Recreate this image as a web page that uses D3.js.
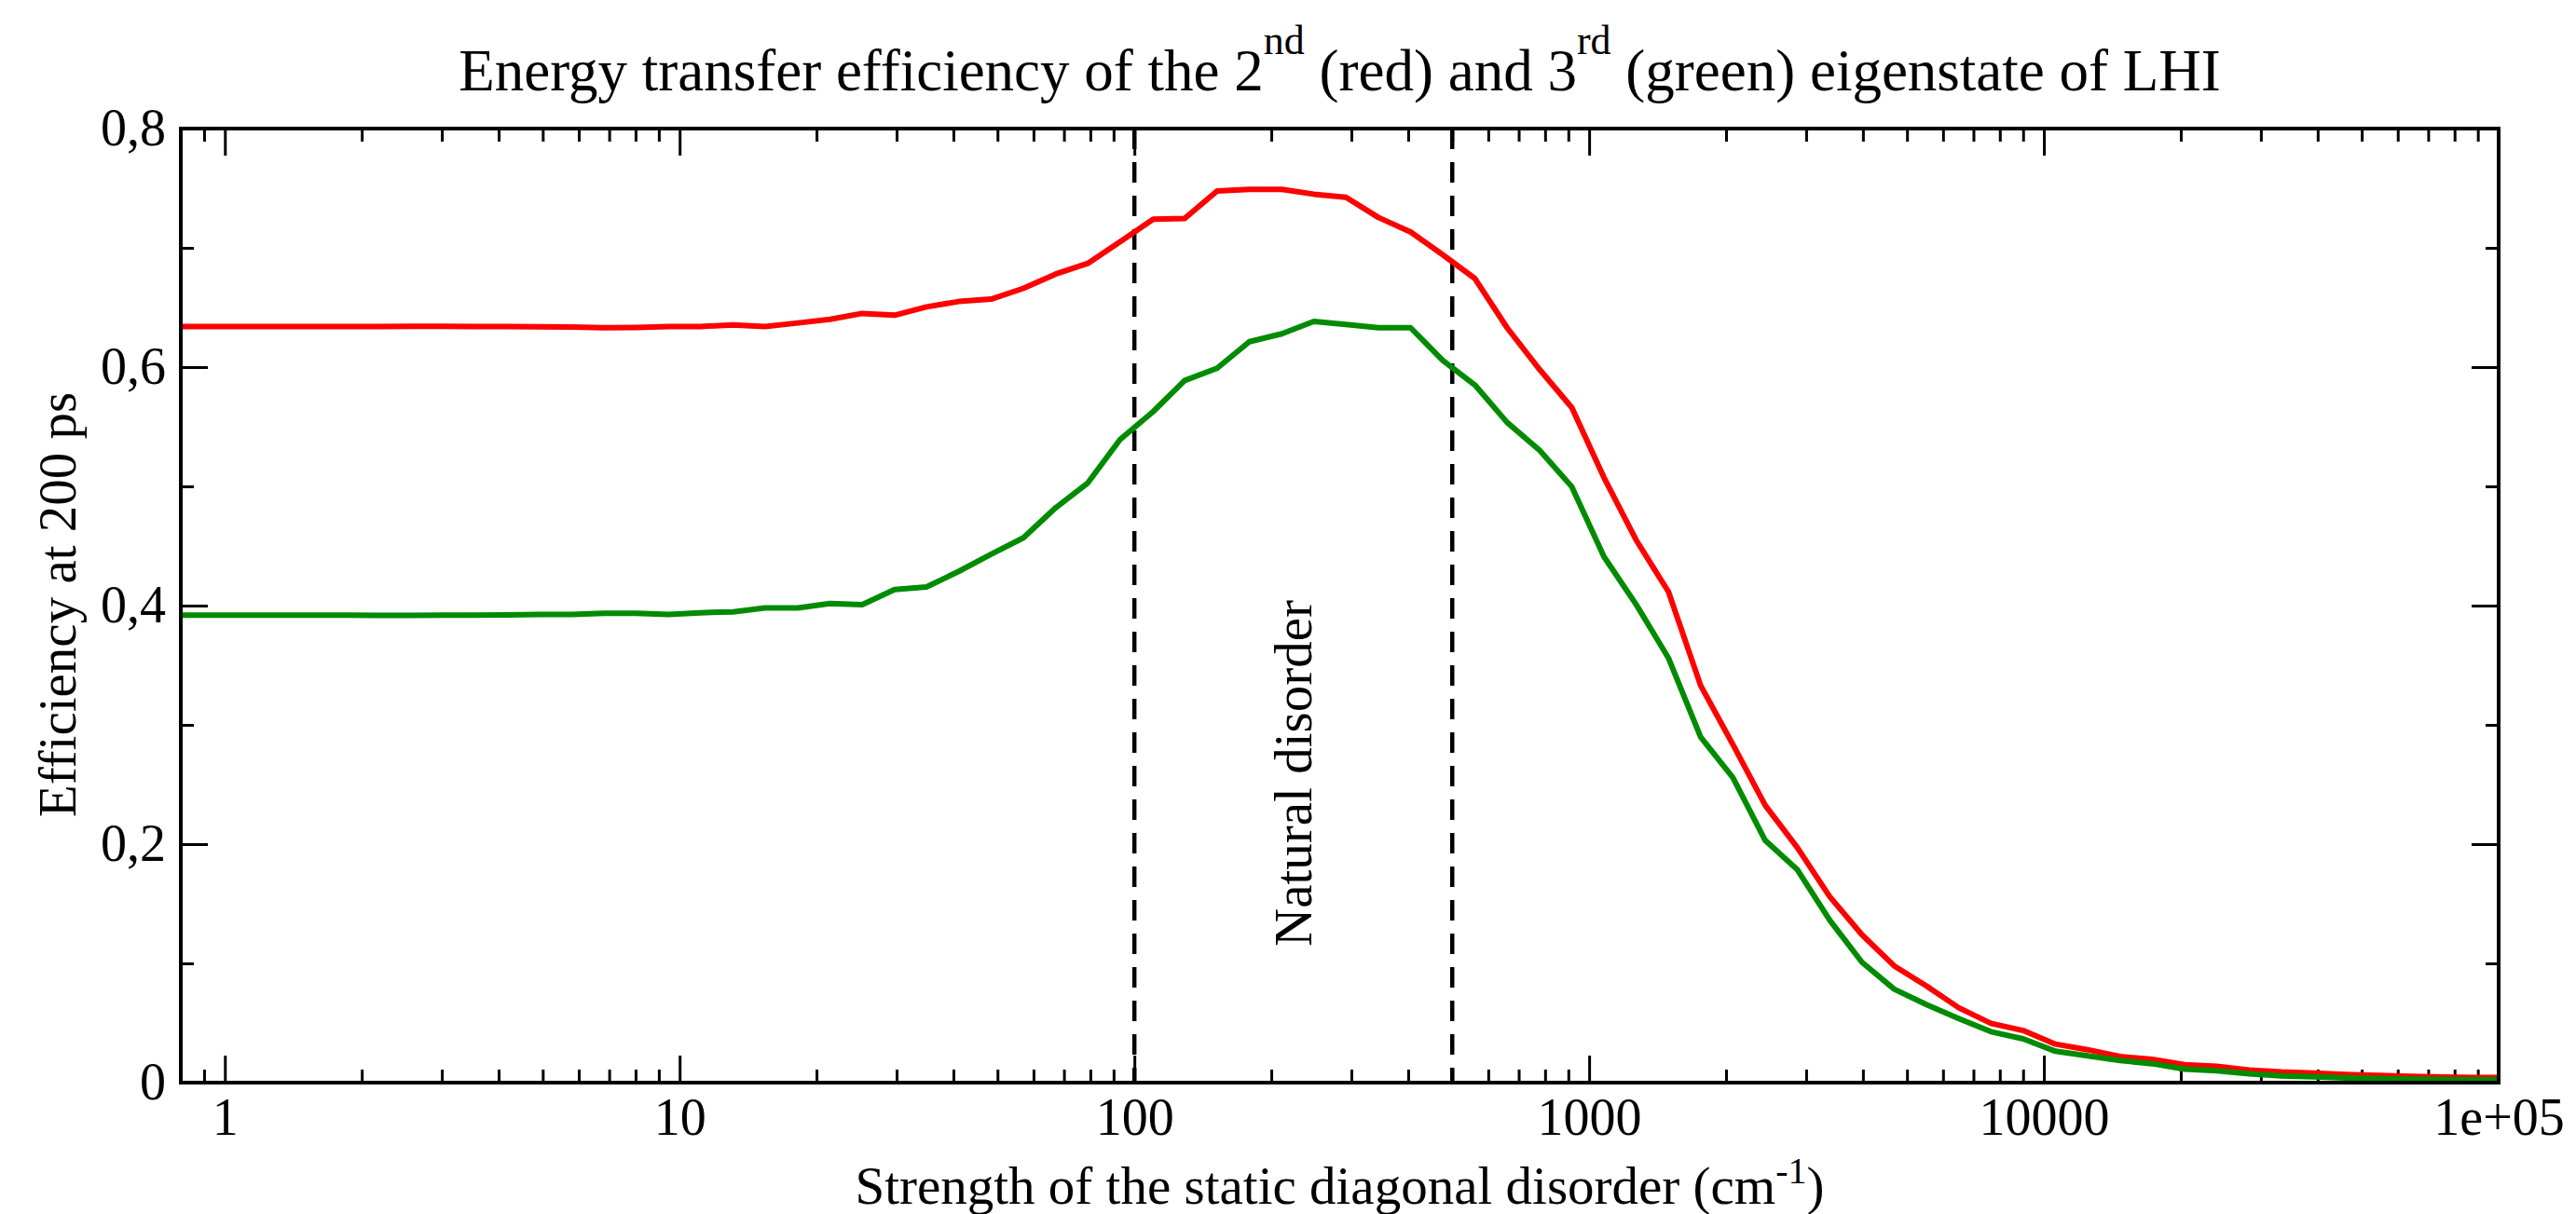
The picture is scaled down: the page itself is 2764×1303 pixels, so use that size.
<!doctype html>
<html lang="en">
  <head>
    <meta charset="utf-8">
    <title>Energy transfer efficiency</title>
    <style>
      body{margin:0;background:#fff;}
      text{font-family:"Liberation Serif","Times New Roman",serif;fill:#000;}
    </style>
  </head>
  <body>
    <div class="holder"></div>
    <script src="https://cdn.jsdelivr.net/npm/d3@7"></script>
    <script>

      // disorder strength (cm^-1)
      var disorder = [0.8, 0.962, 1.13, 1.33, 1.57, 1.85, 2.18, 2.56, 3.02, 3.55, 4.18, 4.92, 5.79, 6.82, 8.03, 9.46,
        11.1, 13.1, 15.4, 18.2, 21.4, 25.2, 29.7, 34.9, 41.1, 48.4, 57.0, 67.1, 79.0, 93.0,
        110, 129, 152, 179, 211, 248, 292, 344, 405, 476, 561, 660, 778, 916,
        1078, 1269, 1494, 1759, 2071, 2439, 2871, 3381, 3980, 4686, 5518, 6497, 7649, 9006,
        10604, 12485, 14700, 17308, 20378, 23993, 28249, 33260, 39161, 46107, 54287, 63917, 75256, 88607, 100000];

      // 2nd eigenstate (red)
      var second = [0.634, 0.634, 0.634, 0.634, 0.634, 0.634, 0.634, 0.6342, 0.6342, 0.634, 0.634, 0.6338, 0.6335, 0.633, 0.6332, 0.634,
        0.634, 0.6354, 0.634, 0.637, 0.640, 0.645, 0.6435, 0.6505, 0.655, 0.657, 0.666, 0.678, 0.687, 0.705,
        0.724, 0.7247, 0.7477, 0.749, 0.749, 0.745, 0.7424, 0.7255, 0.7133, 0.6943, 0.6742, 0.633, 0.598, 0.566,
        0.5074, 0.4549, 0.4117, 0.3329, 0.2835, 0.2325, 0.197, 0.156, 0.124, 0.0979, 0.081, 0.0628, 0.0497, 0.0437,
        0.0323, 0.0276, 0.0219, 0.0195, 0.0151, 0.0136, 0.0105, 0.0089, 0.008, 0.0069, 0.006, 0.0053, 0.0047, 0.0043, 0.0042];

      // 3rd eigenstate (green)
      var third = [0.392, 0.392, 0.392, 0.392, 0.392, 0.392, 0.3918, 0.3918, 0.392, 0.392, 0.3922, 0.3925, 0.3925, 0.3935, 0.3935, 0.3925,
        0.394, 0.3948, 0.398, 0.398, 0.4018, 0.4008, 0.4135, 0.4156, 0.4287, 0.443, 0.4568, 0.482, 0.5029, 0.5393,
        0.5627, 0.5888, 0.599, 0.6213, 0.6279, 0.6383, 0.6357, 0.633, 0.633, 0.6057, 0.5849, 0.5536, 0.5302, 0.4997,
        0.441, 0.4009, 0.3561, 0.2897, 0.2557, 0.2031, 0.1785, 0.1362, 0.101, 0.0784, 0.0654, 0.0537, 0.0427, 0.0367,
        0.0263, 0.0224, 0.0185, 0.0159, 0.0113, 0.0099, 0.0075, 0.0057, 0.0048, 0.004, 0.0034, 0.003, 0.0026, 0.0024, 0.0023];

      var xMajor = [1, 10, 100, 1000, 10000, 100000];
      var xLabels = ["1", "10", "100", "1000", "10000", "1e+05"];
      var yMajor = [0, 0.2, 0.4, 0.6, 0.8];
      var yLabels = ["0", "0,2", "0,4", "0,6", "0,8"];
      var yMinor = [0.1, 0.3, 0.5, 0.7];
      var markers = [100, 500]; // dashed lines, natural disorder range

      var W = 2764, H = 1303,
          m = {left: 194, right: 2681, top: 138, bottom: 1162};

      var x = d3.scaleLog().domain([0.8, 100000]).range([m.left, m.right]);
      var y = d3.scaleLinear().domain([0, 0.8]).range([m.bottom, m.top]);

      // minor ticks of the log axis: 2..9 in each decade, plus 0.9
      var xMinor = [0.9];
      xMajor.slice(0, -1).forEach(function(d){
        for (var k = 2; k <= 9; k++) xMinor.push(d * k);
      });

      var svg = d3.select(".holder").append("svg")
          .attr("width", W).attr("height", H);

      svg.append("defs").append("clipPath").attr("id", "plot")
        .append("rect")
          .attr("x", m.left).attr("y", m.top)
          .attr("width", m.right - m.left).attr("height", m.bottom - m.top);

      //axes, ticks pointing inwards on all four sides
      function styleAxis(g){
        g.select(".domain").remove();
        g.selectAll(".tick line").attr("stroke", "#000").attr("stroke-width", 3);
        g.selectAll("text").style("font-size", "56px").attr("fill", "#000");
      }

      var fmtX = function(d){ return xLabels[xMajor.indexOf(d)]; };
      var fmtY = function(d){ var i = yMajor.indexOf(d); return i < 0 ? "" : yLabels[i]; };

      svg.append("g").attr("transform", "translate(0," + m.bottom + ")")
        .call(d3.axisBottom(x).tickValues(xMajor).tickFormat(fmtX).tickSize(-29).tickPadding(16))
        .call(styleAxis);
      svg.append("g").attr("transform", "translate(0," + m.bottom + ")")
        .call(d3.axisBottom(x).tickValues(xMinor).tickFormat("").tickSize(-14))
        .call(styleAxis);
      svg.append("g").attr("transform", "translate(0," + m.top + ")")
        .call(d3.axisTop(x).tickValues(xMajor).tickFormat("").tickSize(-29))
        .call(styleAxis);
      svg.append("g").attr("transform", "translate(0," + m.top + ")")
        .call(d3.axisTop(x).tickValues(xMinor).tickFormat("").tickSize(-14))
        .call(styleAxis);

      svg.append("g").attr("transform", "translate(" + m.left + ",0)")
        .call(d3.axisLeft(y).tickValues(yMajor).tickFormat(fmtY).tickSize(-29).tickPadding(16))
        .call(styleAxis);
      svg.append("g").attr("transform", "translate(" + m.left + ",0)")
        .call(d3.axisLeft(y).tickValues(yMinor).tickFormat("").tickSize(-14))
        .call(styleAxis);
      svg.append("g").attr("transform", "translate(" + m.right + ",0)")
        .call(d3.axisRight(y).tickValues(yMajor).tickFormat("").tickSize(-29))
        .call(styleAxis);
      svg.append("g").attr("transform", "translate(" + m.right + ",0)")
        .call(d3.axisRight(y).tickValues(yMinor).tickFormat("").tickSize(-14))
        .call(styleAxis);

      //dashed markers
      svg.selectAll(".marker").data(markers).enter().append("line")
          .attr("x1", function(d){ return x(d); }).attr("x2", function(d){ return x(d); })
          .attr("y1", m.top).attr("y2", m.bottom)
          .attr("stroke", "#000").attr("stroke-width", 4.5)
          .attr("stroke-dasharray", "22,14");

      //curves
      var line = d3.line()
          .x(function(d){ return x(d[0]); })
          .y(function(d){ return y(d[1]); });

      var series = [
        {values: second, color: "#ff0000"},
        {values: third, color: "#008b00"}
      ];

      svg.append("g").attr("clip-path", "url(#plot)")
        .selectAll("path").data(series).enter().append("path")
          .attr("d", function(s){ return line(disorder.map(function(v, i){ return [v, s.values[i]]; })); })
          .attr("fill", "none")
          .attr("stroke", function(s){ return s.color; })
          .attr("stroke-width", 6)
          .attr("stroke-linejoin", "round");

      //frame
      svg.append("rect")
          .attr("x", m.left).attr("y", m.top)
          .attr("width", m.right - m.left).attr("height", m.bottom - m.top)
          .attr("fill", "none").attr("stroke", "#000").attr("stroke-width", 4);

      //title with superscripts
      var title = svg.append("text")
          .attr("x", (m.left + m.right) / 2).attr("y", 97)
          .attr("text-anchor", "middle")
          .style("font-size", "63px");
      title.append("tspan").text("Energy transfer efficiency of the 2");
      title.append("tspan").attr("dy", -39).style("font-size", "44px").text("nd");
      title.append("tspan").attr("dy", 39).text(" (red) and 3");
      title.append("tspan").attr("dy", -39).style("font-size", "44px").text("rd");
      title.append("tspan").attr("dy", 39).text(" (green) eigenstate of LHI");

      var xlab = svg.append("text")
          .attr("x", (m.left + m.right) / 2).attr("y", 1292)
          .attr("text-anchor", "middle")
          .style("font-size", "57px");
      xlab.append("tspan").text("Strength of the static diagonal disorder (cm");
      xlab.append("tspan").attr("dy", -22).style("font-size", "40px").text("-1");
      xlab.append("tspan").attr("dy", 22).text(")");

      svg.append("text")
          .attr("transform", "translate(81,649) rotate(-90)")
          .attr("text-anchor", "middle")
          .style("font-size", "57px")
          .text("Efficiency at 200 ps");

      svg.append("text")
          .attr("transform", "translate(1407,830) rotate(-90)")
          .attr("text-anchor", "middle")
          .style("font-size", "57px")
          .text("Natural disorder");

    </script>
  </body>
</html>
